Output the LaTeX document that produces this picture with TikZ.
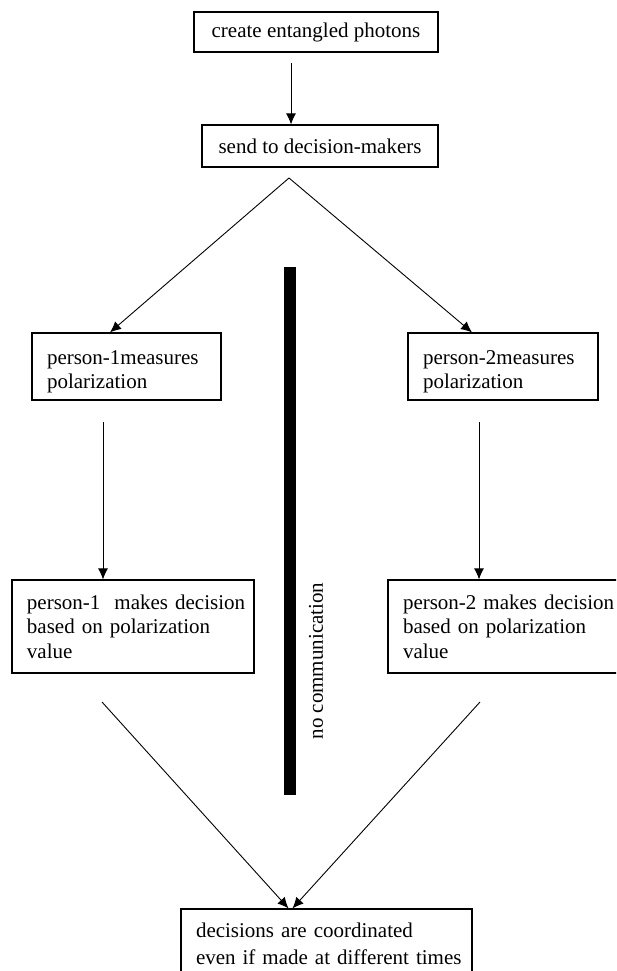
\documentclass[tikz,border=0pt]{standalone}
\usepackage{fontspec}
\setmainfont{Liberation Serif}
\usetikzlibrary{arrows.meta}
\newcommand{\boxline}[1]{\mbox{#1}}
\tikzset{
  stepbox/.style={draw, line width=1.2pt, inner xsep=15pt, inner ysep=0pt,
    font=\fontsize{21}{24.5}\selectfont},
  arr/.style={line width=0.9pt, -{Latex[length=11pt,width=10pt]}},
  wall/.style={fill=black, inner sep=0pt, minimum width=12pt, minimum height=528pt}
}
\begin{document}
\begin{tikzpicture}[x=1pt,y=-1pt]
\useasboundingbox (0,0) rectangle (616,971);
\clip (0,0) rectangle (616,971);

%Section 1
\node [stepbox, minimum width=244pt, minimum height=40pt] (photons) at (316,32) {create entangled photons};
\node [stepbox, minimum width=236pt, minimum height=42pt] (send) at (320,146) {send to decision-makers};

%Section 2: left then right
\node [stepbox, text width=159pt, text height=24pt, align=left, minimum height=67pt] (meas1) at (126.5,366.5)
	{\boxline{person-1measures}\\\boxline{polarization}};
\node [stepbox, text width=212pt, align=left, minimum height=93pt] (dec1) at (133,626.5)
	{\boxline{person-1 \ makes decision}\\\boxline{based on polarization}\\\boxline{value}};

\node [stepbox, text width=160pt, text height=24pt, align=left, minimum height=67pt] (meas2) at (503,366.5)
	{\boxline{person-2measures}\\\boxline{polarization}};
\node [stepbox, text width=212pt, align=left, minimum height=93pt] (dec2) at (509,626.5)
	{\boxline{person-2 makes decision}\\\boxline{based on polarization}\\\boxline{value}};

%Section 3
\node [stepbox, text width=261pt, align=left, minimum height=69pt,
	font=\fontsize{21}{27}\selectfont] (final) at (326.5,943.5)
	{\boxline{decisions are coordinated}\\\boxline{even if made at different times}};

%No communication
\node [wall] (barrier) at (290,531) {};
\node [rotate=90, font=\fontsize{21}{24.5}\selectfont] (nocomm) at (316,661) {no communication};

%Flow lines
\coordinate (top) at (291,63);
\coordinate (split) at (289,178);
\coordinate (d1) at (103,422);
\coordinate (d2) at (479,422);
\coordinate (c1) at (102,702);
\coordinate (c2) at (480,702);

\draw [arr] (top) -- (top |- send.north);
\draw [arr] (split) -- ([xshift=-16.5pt]meas1.north);
\draw [arr] (split) -- ([xshift=-31pt]meas2.north);
\foreach \s/\t in {d1/dec1,d2/dec2}
	\draw [arr] (\s) -- (\s |- \t.north);
\draw [arr] (c1) -- ([xshift=-38pt]final.north);
\draw [arr] (c2) -- ([xshift=-34pt]final.north);
\end{tikzpicture}
\end{document}
